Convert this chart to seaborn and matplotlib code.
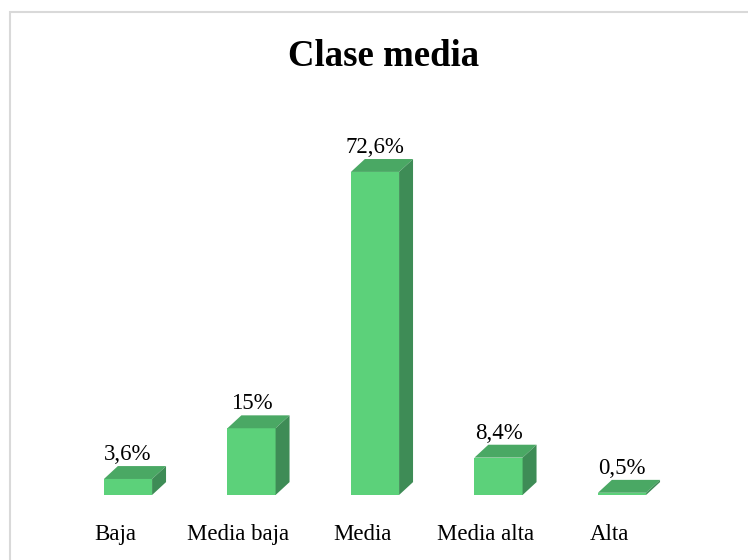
import matplotlib
matplotlib.use('Agg')
import matplotlib.pyplot as plt
from matplotlib.patches import Polygon, Rectangle
import matplotlib.transforms as mtransforms
import seaborn as sns

categorias = ['Baja', 'Media baja', 'Media', 'Media alta', 'Alta']
valores = [3.6, 15, 72.6, 8.4, 0.5]
etiquetas = ['3,6%', '15%', '72,6%', '8,4%', '0,5%']

sns.set_style('white')
plt.rcParams['font.family'] = ['Liberation Serif', 'DejaVu Serif']
plt.rcParams['text.color'] = 'black'
plt.rcParams['xtick.color'] = 'black'

verde = '#5CD17A'
verde_top = '#4AA864'
verde_lado = '#3E8C56'

fig = plt.figure(figsize=(7.48, 5.6), dpi=100)
ax = fig.add_axes([66.25 / 748, 65 / 560, 617.5 / 748, 356 / 560])

sns.barplot(x=categorias, y=valores, color=verde, saturation=1, width=0.39,
            linewidth=0, edgecolor='none', ax=ax)

# efecto 3D: cara superior y lateral
dx = 0.113
dy = 2.9
for p in list(ax.patches):
    x0 = p.get_x()
    x1 = x0 + p.get_width()
    h = p.get_height()
    top = Polygon([(x0, h), (x1, h), (x1 + dx, h + dy), (x0 + dx, h + dy)],
                  closed=True, facecolor=verde_top, edgecolor='none')
    side = Polygon([(x1, 0), (x1 + dx, dy), (x1 + dx, h + dy), (x1, h)],
                   closed=True, facecolor=verde_lado, edgecolor='none')
    ax.add_patch(top)
    ax.add_patch(side)

for i, v in enumerate(valores):
    ax.annotate(etiquetas[i], (i, v), xytext=(0, 10), textcoords='offset points',
                ha='center', va='bottom', fontsize=16.5, color='black')

ax.set_xlim(-0.5, 4.5)
ax.set_ylim(0, 80)
ax.set_yticks([])
ax.set_xlabel('')
ax.set_ylabel('')
ax.tick_params(axis='x', length=0, pad=21, labelsize=16.5, labelcolor='black')
offset = mtransforms.ScaledTranslation(-13 / 100, 0, fig.dpi_scale_trans)
for lbl in ax.get_xticklabels():
    lbl.set_transform(lbl.get_transform() + offset)
sns.despine(ax=ax, left=True, bottom=True)

fig.text(384 / 748, 1 - 56 / 560, 'Clase media', ha='center', va='center',
         fontsize=26.5, fontweight='bold', color='black')

borde = Rectangle((10 / 748, -0.2), 1.5, 1.2 - 12 / 560, transform=fig.transFigure,
                  fill=False, edgecolor='#D9D9D9', linewidth=1.5, clip_on=False)
fig.add_artist(borde)

fig.savefig('out.png', dpi=100)
